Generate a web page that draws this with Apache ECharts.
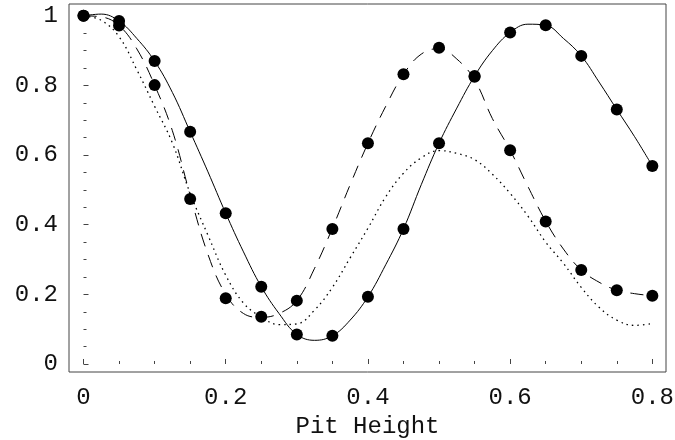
<!DOCTYPE html>
<html>
<head>
<meta charset="utf-8">
<script src="https://cdn.jsdelivr.net/npm/echarts@6/dist/echarts.min.js"></script>
<style>
html,body{margin:0;padding:0;background:#fff;}
#c{width:675px;height:440px;}
</style>
</head>
<body>
<div id="c"></div>
<script>
// Sample positions (pit height) for the dots
const dotX = [0,0.05,0.1,0.15,0.2,0.25,0.3,0.35,0.4,0.45,0.5,0.55,0.6,0.65,0.7,0.75,0.8];
// Solid-line data points
const dotsSolid = [1.0,0.985,0.870,0.667,0.433,0.222,0.085,0.081,0.193,0.388,0.634,0.827,0.952,0.973,0.885,0.731,0.569];
// Dashed-line data points
const dotsDashed = [1.0,0.972,0.801,0.474,0.189,0.136,0.182,0.388,0.634,0.832,0.908,0.825,0.614,0.409,0.270,0.212,0.196];

// Curve sample positions
const curveX = [0,0.025,0.05,0.075,0.1,0.125,0.15,0.175,0.2,0.225,0.25,0.275,0.3,0.325,0.35,0.375,0.4,0.425,0.45,0.475,0.5,0.525,0.55,0.575,0.6,0.625,0.65,0.675,0.7,0.725,0.75,0.775,0.8];
const curveSolid = [1.0,1.005,0.985,0.935,0.870,0.780,0.667,0.552,0.433,0.322,0.222,0.145,0.085,0.068,0.081,0.126,0.193,0.285,0.388,0.515,0.634,0.735,0.827,0.900,0.952,0.976,0.973,0.935,0.885,0.810,0.731,0.653,0.569];
const curveDashed = [1.0,0.997,0.972,0.905,0.801,0.670,0.485,0.315,0.200,0.145,0.134,0.145,0.182,0.275,0.390,0.515,0.634,0.740,0.832,0.890,0.906,0.876,0.816,0.705,0.614,0.510,0.410,0.330,0.270,0.235,0.212,0.202,0.196];
const curveDotted = [1.0,0.987,0.940,0.845,0.740,0.635,0.490,0.370,0.255,0.175,0.135,0.113,0.115,0.155,0.220,0.305,0.390,0.480,0.548,0.592,0.613,0.605,0.587,0.545,0.490,0.425,0.350,0.289,0.220,0.163,0.126,0.111,0.116];

const xMajor = [0,0.2,0.4,0.6,0.8];
const xMinor = [0.05,0.1,0.15,0.25,0.3,0.35,0.45,0.5,0.55,0.65,0.7,0.75];
const yMajor = [0,0.2,0.4,0.6,0.8,1];
const yMinor = [0.05,0.1,0.15,0.25,0.3,0.35,0.45,0.5,0.55,0.65,0.7,0.75,0.85,0.9,0.95];
const xName = 'Pit Height';

const pairs = (xs, ys) => xs.map((x, i) => [x, ys[i]]);

const FONT = 'Liberation Mono';
const FS = 24;
const XMIN = -0.0204, XMAX = 0.8192, YMIN = -0.023, YMAX = 1.034;

function xAxisDef(vals, len, showLabel, name) {
  return {
    type: 'value', min: XMIN, max: XMAX, position: 'bottom', offset: 0,
    name: name || '', nameLocation: 'middle', nameGap: 43, nameMoveOverlap: false,
    nameTextStyle: {fontFamily: FONT, fontSize: FS, color: '#111', verticalAlign: 'top'},
    axisLine: {show: false},
    splitLine: {show: false},
    axisTick: {show: true, inside: true, length: len, customValues: vals, lineStyle: {color: '#444', width: 1}},
    axisLabel: {show: showLabel, customValues: vals, fontFamily: FONT, fontSize: FS, color: '#111', margin: 14,
      formatter: v => String(v)}
  };
}
function yAxisDef(vals, len, showLabel) {
  return {
    type: 'value', min: YMIN, max: YMAX, position: 'left', offset: 0,
    axisLine: {show: false},
    splitLine: {show: false},
    axisTick: {show: true, inside: true, length: len, customValues: vals, lineStyle: {color: '#444', width: 1}},
    axisLabel: {show: showLabel, customValues: vals, fontFamily: FONT, fontSize: FS, color: '#111', margin: 11,
      formatter: v => String(v)}
  };
}

const chart = echarts.init(document.getElementById('c'), null, {renderer: 'canvas'});
chart.setOption({
  animation: false,
  backgroundColor: '#fff',
  grid: {left: 69, right: 9, top: 4, bottom: 68, containLabel: false, outerBoundsMode: 'none',
    show: true, borderColor: '#444', borderWidth: 1, backgroundColor: 'transparent'},
  xAxis: [xAxisDef(xMajor, 5, true, xName), xAxisDef(xMinor, 3, false)],
  yAxis: [yAxisDef(yMajor, 5, true), yAxisDef(yMinor, 3, false)],
  series: [
    {type: 'line', data: pairs(curveX, curveDotted), smooth: 0.4, showSymbol: false,
      lineStyle: {color: '#000', width: 1.3, type: [1.5, 4]}},
    {type: 'line', data: pairs(curveX, curveDashed), smooth: 0.4, showSymbol: false,
      lineStyle: {color: '#000', width: 1, type: [13, 9]}},
    {type: 'line', data: pairs(curveX, curveSolid), smooth: 0.4, showSymbol: false,
      lineStyle: {color: '#000', width: 1}},
    {type: 'scatter', data: pairs(dotX, dotsDashed), symbol: 'circle', symbolSize: 12,
      itemStyle: {color: '#000', opacity: 1}},
    {type: 'scatter', data: pairs(dotX, dotsSolid), symbol: 'circle', symbolSize: 12,
      itemStyle: {color: '#000', opacity: 1}}
  ]
});
</script>
</body>
</html>
